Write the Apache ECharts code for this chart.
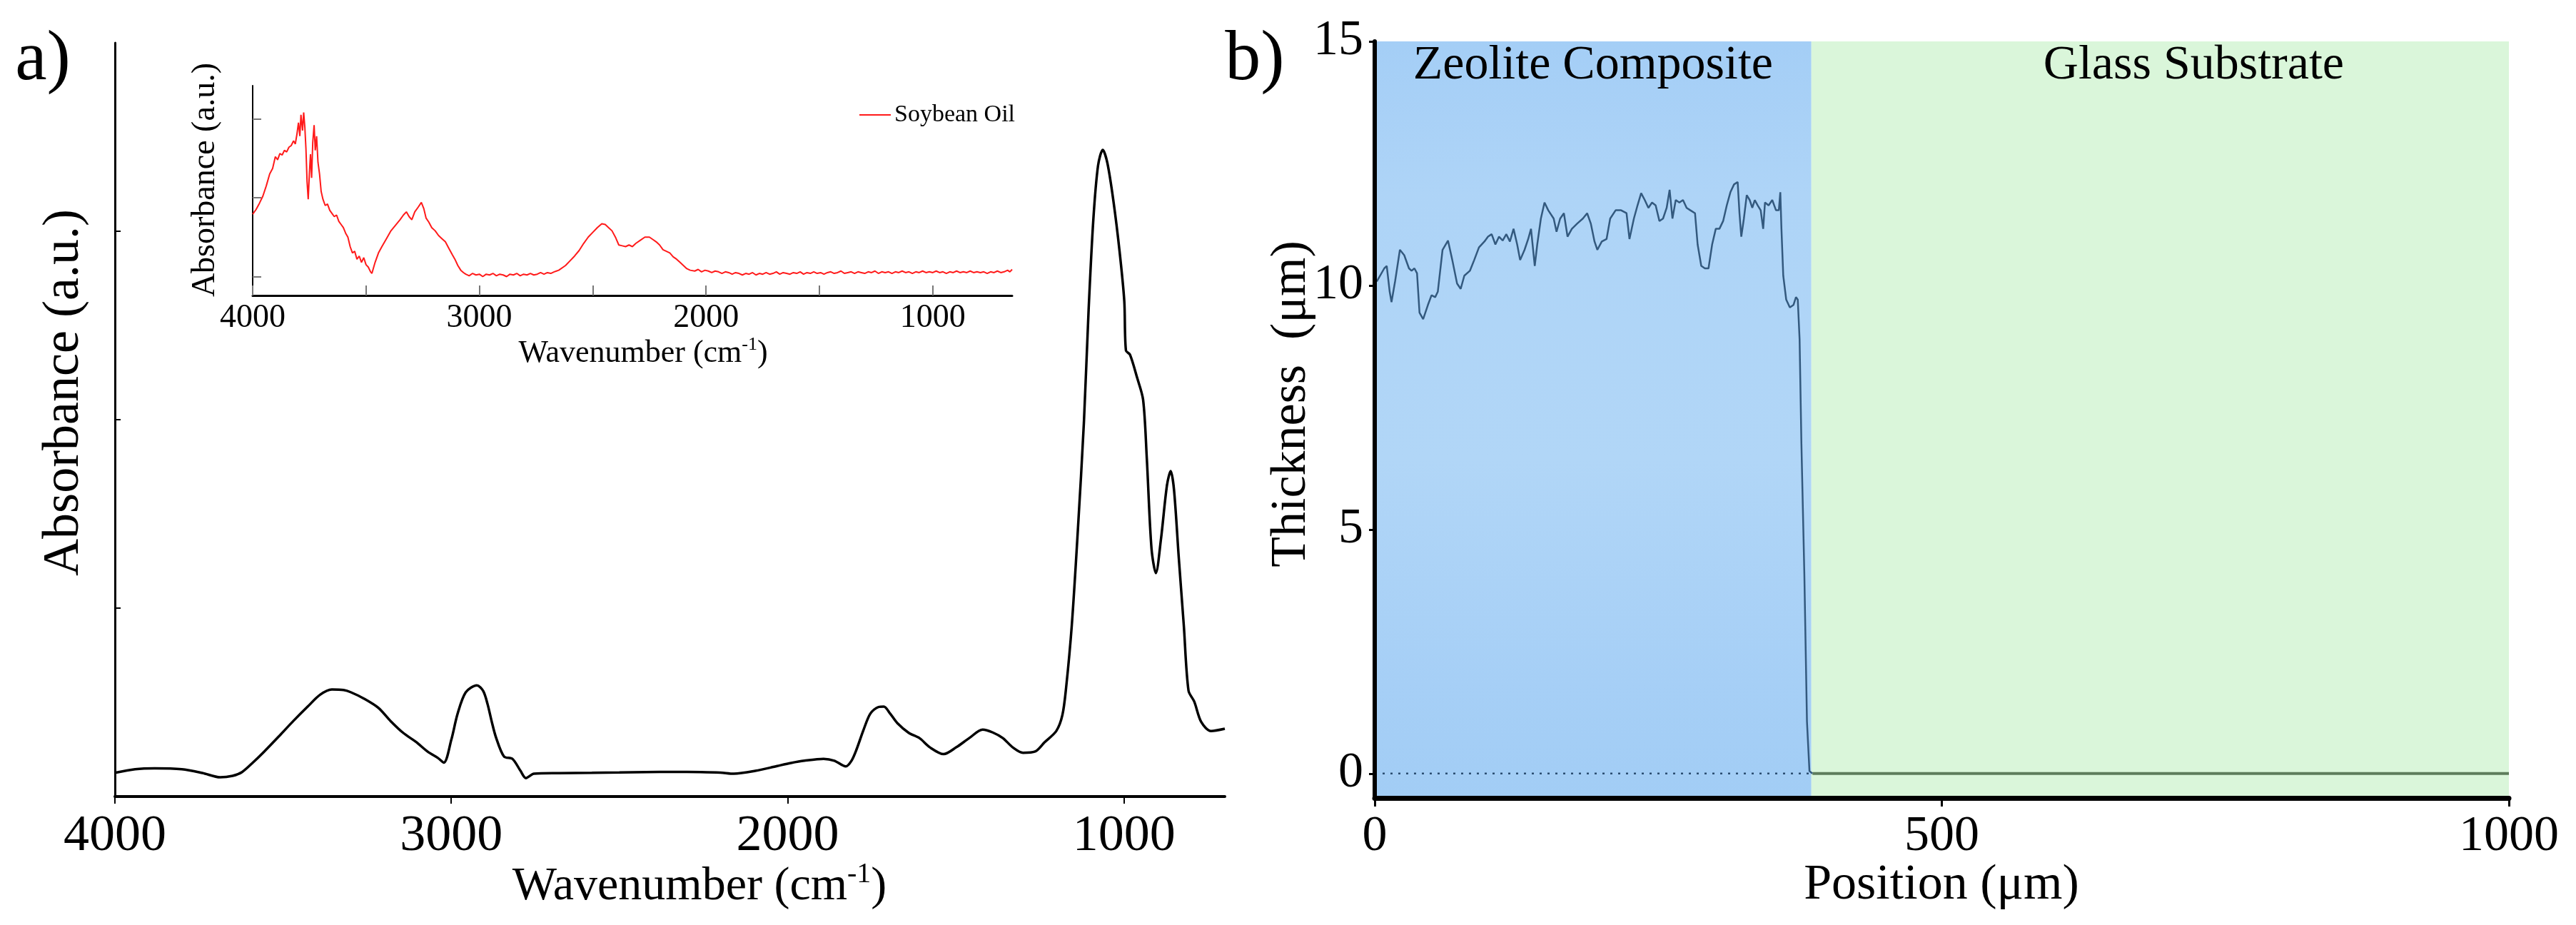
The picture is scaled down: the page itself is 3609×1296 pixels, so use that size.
<!DOCTYPE html>
<html>
<head>
<meta charset="utf-8">
<script src="https://cdn.jsdelivr.net/npm/echarts@6/dist/echarts.min.js"></script>
<style>
html, body { margin: 0; padding: 0; background: #fff; }
#chart { width: 3609px; height: 1296px; }
</style>
</head>
<body>
<div id="chart"></div>
<script>
// a) FTIR spectrum (wavenumber cm-1, absorbance a.u.)
var ftirWavenumber = [4000, 3940, 3882, 3801, 3740, 3687, 3650, 3622, 3590, 3557, 3509, 3470, 3427, 3390, 3355, 3320, 3298, 3260, 3217, 3180, 3143, 3105, 3070, 3040, 3022, 3000, 2981, 2957, 2924, 2905, 2892, 2880, 2867, 2843, 2818, 2794, 2778, 2754, 2680, 2582, 2500, 2421, 2340, 2258, 2200, 2160, 2096, 2031, 1990, 1950, 1893, 1861, 1827, 1810, 1795, 1775, 1754, 1730, 1714, 1695, 1674, 1640, 1608, 1576, 1536, 1498, 1460, 1420, 1390, 1360, 1330, 1300, 1264, 1236, 1201, 1183, 1172, 1155, 1137, 1119, 1105, 1091, 1077, 1063, 1049, 1031, 1013, 999, 994, 982, 961, 943, 932, 918, 905, 890, 872, 861, 851, 837, 822, 808, 791, 770, 741, 700];
var ftirAbsorbance = [0.126, 0.145, 0.15, 0.145, 0.125, 0.102, 0.11, 0.13, 0.18, 0.237, 0.326, 0.40, 0.477, 0.54, 0.568, 0.565, 0.553, 0.52, 0.471, 0.40, 0.338, 0.29, 0.238, 0.205, 0.18, 0.30, 0.44, 0.553, 0.59, 0.56, 0.49, 0.40, 0.314, 0.212, 0.2, 0.136, 0.098, 0.121, 0.124, 0.126, 0.128, 0.13, 0.131, 0.13, 0.127, 0.121, 0.136, 0.162, 0.178, 0.19, 0.2, 0.19, 0.16, 0.19, 0.25, 0.35, 0.44, 0.475, 0.477, 0.44, 0.39, 0.338, 0.31, 0.26, 0.225, 0.262, 0.31, 0.355, 0.34, 0.31, 0.26, 0.232, 0.239, 0.288, 0.348, 0.432, 0.576, 0.909, 1.413, 1.985, 2.583, 3.061, 3.348, 3.432, 3.36, 3.157, 2.894, 2.631, 2.367, 2.345, 2.224, 2.106, 1.795, 1.316, 1.186, 1.364, 1.652, 1.727, 1.626, 1.269, 0.909, 0.562, 0.504, 0.395, 0.348, 0.36];

// inset: soybean oil spectrum
var oilWavenumber = [4000, 3985, 3970, 3955, 3940, 3925, 3912, 3900, 3890, 3880, 3870, 3860, 3850, 3840, 3830, 3820, 3812, 3805, 3798, 3792, 3787, 3780, 3775, 3770, 3765, 3760, 3755, 3750, 3745, 3740, 3735, 3729, 3724, 3718, 3712, 3705, 3698, 3690, 3680, 3670, 3660, 3650, 3640, 3630, 3620, 3610, 3600, 3590, 3580, 3570, 3560, 3550, 3540, 3530, 3520, 3510, 3500, 3490, 3480, 3474, 3460, 3445, 3430, 3410, 3390, 3370, 3350, 3335, 3322, 3310, 3298, 3285, 3270, 3256, 3245, 3235, 3223, 3210, 3195, 3180, 3165, 3150, 3135, 3120, 3108, 3095, 3082, 3070, 3060, 3045, 3030, 3015, 3000, 2985, 2970, 2955, 2940, 2925, 2910, 2895, 2880, 2865, 2850, 2835, 2820, 2805, 2790, 2775, 2760, 2745, 2730, 2715, 2700, 2685, 2670, 2660, 2650, 2620, 2600, 2580, 2560, 2540, 2520, 2500, 2480, 2460, 2445, 2430, 2415, 2400, 2385, 2370, 2355, 2340, 2325, 2310, 2290, 2270, 2250, 2235, 2220, 2205, 2190, 2175, 2160, 2145, 2130, 2115, 2100, 2085, 2070, 2050, 2035, 2020, 2005, 1990, 1975, 1960, 1945, 1930, 1915, 1900, 1885, 1870, 1855, 1840, 1825, 1810, 1795, 1780, 1765, 1750, 1735, 1720, 1705, 1690, 1675, 1660, 1645, 1630, 1615, 1600, 1585, 1570, 1555, 1540, 1525, 1510, 1495, 1480, 1465, 1450, 1435, 1420, 1405, 1390, 1375, 1360, 1345, 1330, 1315, 1300, 1285, 1270, 1255, 1240, 1225, 1210, 1195, 1180, 1165, 1150, 1135, 1120, 1105, 1090, 1075, 1060, 1045, 1030, 1015, 1000, 985, 970, 955, 940, 925, 910, 895, 880, 865, 850, 835, 820, 805, 790, 775, 760, 745, 730, 715, 700, 685, 670, 660, 650];
var oilAbsorbance = [0.79, 0.85, 0.93, 1.02, 1.15, 1.30, 1.37, 1.52, 1.48, 1.56, 1.54, 1.60, 1.58, 1.64, 1.66, 1.72, 1.68, 1.80, 1.95, 1.78, 2.05, 1.85, 2.08, 1.90, 1.62, 1.20, 0.98, 1.30, 1.55, 1.25, 1.70, 1.92, 1.60, 1.78, 1.45, 1.30, 1.08, 0.98, 0.90, 0.92, 0.84, 0.80, 0.76, 0.78, 0.70, 0.66, 0.62, 0.55, 0.50, 0.38, 0.30, 0.32, 0.22, 0.26, 0.18, 0.24, 0.15, 0.12, 0.06, 0.04, 0.18, 0.30, 0.38, 0.48, 0.58, 0.65, 0.72, 0.78, 0.82, 0.76, 0.72, 0.82, 0.88, 0.94, 0.86, 0.74, 0.69, 0.62, 0.58, 0.52, 0.48, 0.44, 0.36, 0.28, 0.22, 0.14, 0.08, 0.05, 0.03, 0.01, 0.04, 0.02, 0.03, 0.00, 0.03, 0.02, 0.04, 0.01, 0.03, 0.02, 0.00, 0.03, 0.02, 0.04, 0.01, 0.03, 0.02, 0.04, 0.02, 0.03, 0.05, 0.03, 0.05, 0.04, 0.06, 0.07, 0.08, 0.14, 0.20, 0.26, 0.33, 0.42, 0.50, 0.56, 0.62, 0.67, 0.66, 0.62, 0.58, 0.50, 0.40, 0.39, 0.38, 0.40, 0.38, 0.42, 0.46, 0.50, 0.50, 0.47, 0.44, 0.40, 0.34, 0.32, 0.30, 0.25, 0.22, 0.18, 0.14, 0.10, 0.08, 0.07, 0.09, 0.06, 0.08, 0.07, 0.05, 0.07, 0.06, 0.04, 0.06, 0.05, 0.03, 0.05, 0.04, 0.02, 0.04, 0.03, 0.05, 0.02, 0.04, 0.03, 0.05, 0.03, 0.04, 0.06, 0.03, 0.05, 0.04, 0.03, 0.05, 0.04, 0.06, 0.03, 0.05, 0.04, 0.06, 0.04, 0.05, 0.03, 0.05, 0.06, 0.04, 0.05, 0.07, 0.04, 0.05, 0.06, 0.04, 0.06, 0.05, 0.04, 0.06, 0.05, 0.07, 0.04, 0.06, 0.05, 0.06, 0.04, 0.06, 0.05, 0.07, 0.05, 0.06, 0.04, 0.06, 0.05, 0.07, 0.05, 0.06, 0.05, 0.07, 0.05, 0.06, 0.04, 0.06, 0.05, 0.07, 0.05, 0.06, 0.05, 0.07, 0.05, 0.06, 0.05, 0.06, 0.04, 0.06, 0.05, 0.07, 0.05, 0.06, 0.08, 0.06, 0.09];

// b) thickness profile (position um, thickness um)
var profilePosition = [0, 2, 8.4, 10.6, 13.2, 14.8, 18.0, 22.2, 26.0, 30.2, 32.5, 35.0, 37.3, 39.5, 42.7, 46.9, 50.1, 53.3, 55.6, 59.8, 64.6, 68.4, 72.6, 75.8, 79.0, 83.9, 87.7, 91.9, 96.7, 99.9, 103.1, 106.4, 109.6, 112.8, 116.0, 119.2, 122.4, 125.6, 128.2, 132.1, 135.3, 137.8, 141.1, 143.3, 146.5, 149.7, 153.0, 157.8, 160.3, 163.5, 166.8, 170.0, 173.8, 178.6, 183.5, 187.3, 190.5, 193.8, 196.3, 200.2, 204.4, 207.6, 212.4, 217.2, 222.0, 224.6, 228.5, 231.7, 234.9, 238.1, 241.3, 244.5, 247.7, 251.0, 254.2, 257.4, 260.0, 262.5, 265.4, 268.6, 271.8, 275.0, 278.3, 282.4, 284.7, 287.9, 291.1, 294.3, 297.5, 300.7, 303.9, 307.2, 310.4, 313.6, 316.8, 320.0, 321.6, 323.2, 325.5, 328.0, 330.6, 332.9, 335.1, 337.7, 340.3, 342.5, 344.1, 347.3, 350.5, 353.8, 356.3, 357.6, 358.6, 360.2, 362.8, 366.0, 369.2, 371.4, 373.0, 374.6, 376.2, 378.8, 381.1, 383.3, 385.9];
var profileThickness = [10.1, 10.09, 10.35, 10.4, 9.87, 9.66, 10.09, 10.73, 10.62, 10.35, 10.3, 10.35, 10.25, 9.44, 9.31, 9.6, 9.8, 9.76, 9.87, 10.73, 10.92, 10.52, 10.04, 9.93, 10.2, 10.3, 10.52, 10.78, 10.9, 11.0, 11.05, 10.84, 11.0, 10.92, 11.05, 10.9, 11.16, 10.84, 10.52, 10.73, 10.95, 11.16, 10.4, 10.84, 11.37, 11.7, 11.54, 11.37, 11.1, 11.37, 11.48, 11.0, 11.16, 11.27, 11.37, 11.48, 11.27, 10.9, 10.73, 10.9, 10.95, 11.37, 11.54, 11.54, 11.48, 10.95, 11.37, 11.64, 11.89, 11.75, 11.59, 11.7, 11.64, 11.32, 11.37, 11.59, 11.96, 11.37, 11.75, 11.7, 11.75, 11.59, 11.54, 11.48, 10.84, 10.4, 10.35, 10.35, 10.84, 11.16, 11.16, 11.32, 11.64, 11.91, 12.07, 12.12, 11.48, 11.0, 11.37, 11.85, 11.75, 11.59, 11.75, 11.64, 11.54, 11.16, 11.7, 11.64, 11.75, 11.54, 11.54, 11.91, 11.16, 10.2, 9.71, 9.55, 9.6, 9.76, 9.71, 8.9, 6.76, 4.08, 1.07, 0.05, 0.0];
var substratePosition = [386, 1000];
var substrateThickness = [0, 0];
var zeroLinePosition = [0, 385];
var zeroLineThickness = [0, 0];

var zoneNames = ['Zeolite Composite', 'Glass Substrate'];
var zoneStart = [0, 385];
var zoneEnd = [385, 1000];

var mainTicks = [1000, 2000, 3000, 4000];
var insetTicks = [1000, 1500, 2000, 2500, 3000, 3500, 4000];
var thicknessTicks = [0, 5, 10, 15];
var positionTicks = [0, 500, 1000];

function zip(xs, ys) {
    return xs.map(function (x, i) { return [x, ys[i]]; });
}
function plain(v) { return String(v); }

var serif = 'Liberation Serif';
var chart = echarts.init(document.getElementById('chart'));

var blueFill = new echarts.graphic.LinearGradient(0, 0, 0, 1, [
    {offset: 0, color: '#a4cef6'},
    {offset: 0.2, color: '#aed4f7'},
    {offset: 0.55, color: '#b1d6f7'},
    {offset: 0.85, color: '#a6cff6'},
    {offset: 1, color: '#a2cdf5'}
]);

function title(x, y, text, size, rot) {
    return {
        type: 'text', x: x, y: y, rotation: rot || 0, z: 20,
        style: {
            text: text, fill: '#000', align: 'center', verticalAlign: 'middle',
            fontFamily: serif, fontSize: size,
            rich: {
                a: {fontFamily: serif, fontSize: size, lineHeight: size * 1.15},
                s: {fontFamily: serif, fontSize: Math.round(size * 0.6), lineHeight: Math.round(size * 0.6), verticalAlign: 'top'}
            }
        }
    };
}

chart.setOption({
    animation: false,
    backgroundColor: '#fff',
    legend: {
        data: ['Soybean Oil'],
        left: 1199, top: 139,
        icon: 'rect', itemWidth: 44, itemHeight: 2,
        textStyle: {fontFamily: serif, fontSize: 34, color: '#000'}
    },
    grid: [
        {left: 161, top: 60, width: 1555, height: 1056},
        {left: 354, top: 120, width: 1064, height: 294},
        {left: 1926, top: 58, width: 1589, height: 1060}
    ],
    xAxis: [
        {
            gridIndex: 0, type: 'value', inverse: true, min: 700, max: 4000,
            splitLine: {show: false},
            axisLine: {onZero: false, lineStyle: {color: '#000', width: 4}},
            axisTick: {customValues: mainTicks, length: 10, lineStyle: {color: '#000', width: 2}},
            axisLabel: {customValues: mainTicks, formatter: plain, margin: 20, fontFamily: serif, fontSize: 72, color: '#000'}
        },
        {
            gridIndex: 1, type: 'value', inverse: true, min: 650, max: 4000,
            splitLine: {show: false},
            axisLine: {onZero: false, lineStyle: {color: '#000', width: 3}},
            axisTick: {customValues: insetTicks, inside: true, length: 14, lineStyle: {color: '#777', width: 2}},
            axisLabel: {customValues: mainTicks, formatter: plain, margin: 9, fontFamily: serif, fontSize: 46, color: '#000'}
        },
        {
            gridIndex: 2, type: 'value', min: 0, max: 1000, z: 10,
            splitLine: {show: false},
            axisLine: {onZero: false, lineStyle: {color: '#000', width: 7}},
            axisTick: {customValues: positionTicks, length: 12, lineStyle: {color: '#000', width: 3}},
            axisLabel: {customValues: positionTicks, formatter: plain, margin: 20, fontFamily: serif, fontSize: 70, color: '#000'}
        }
    ],
    yAxis: [
        {
            gridIndex: 0, type: 'value', min: 0, max: 4,
            splitLine: {show: false},
            axisLine: {show: true, onZero: false, lineStyle: {color: '#000', width: 3}},
            axisTick: {show: true, customValues: [1, 2, 3], inside: true, length: 8, lineStyle: {color: '#000', width: 2}},
            axisLabel: {show: false}
        },
        {
            gridIndex: 1, type: 'value', min: -0.24, max: 2.42,
            splitLine: {show: false},
            axisLine: {show: true, onZero: false, lineStyle: {color: '#000', width: 2}},
            axisTick: {show: true, customValues: [0, 1, 2], inside: true, length: 12, lineStyle: {color: '#777', width: 2}},
            axisLabel: {show: false}
        },
        {
            gridIndex: 2, type: 'value', min: -0.5, max: 15, z: 10,
            splitLine: {show: false},
            axisLine: {show: true, onZero: false, lineStyle: {color: '#000', width: 6}},
            axisTick: {show: true, customValues: thicknessTicks, length: 8, lineStyle: {color: '#000', width: 3}},
            axisLabel: {customValues: thicknessTicks, formatter: plain, margin: 16, fontFamily: serif, fontSize: 70, color: '#000'}
        }
    ],
    graphic: [
        title(60, 85, 'a)', 100),
        title(1758, 85, 'b)', 100),
        title(90, 550, 'Absorbance (a.u.)', 72, Math.PI / 2),
        title(980, 1243, '{a|Wavenumber (cm}{s|-1}{a|)}', 66),
        title(288, 252, 'Absorbance (a.u.)', 46, Math.PI / 2),
        title(901, 495, '{a|Wavenumber (cm}{s|-1}{a|)}', 44),
        title(1810, 566, 'Thickness  (\u03bcm)', 70, Math.PI / 2),
        title(2720, 1241, 'Position (\u03bcm)', 70)
    ],
    series: [
        {
            name: 'zones', type: 'line', xAxisIndex: 2, yAxisIndex: 2,
            data: zip(zeroLinePosition, zeroLineThickness),
            showSymbol: false, z: 3,
            lineStyle: {color: '#2b4d70', width: 2.5, type: [3, 8]},
            markArea: {
                silent: true,
                label: {position: 'insideTop', distance: 0, fontFamily: serif, fontSize: 68, color: '#000'},
                data: [
                    [{name: zoneNames[0], xAxis: zoneStart[0], itemStyle: {color: blueFill}},
                     {xAxis: zoneEnd[0]}],
                    [{name: zoneNames[1], xAxis: zoneStart[1], itemStyle: {color: '#daf6da'}, label: {offset: [47, 0]}},
                     {xAxis: zoneEnd[1]}]
                ]
            }
        },
        {
            name: 'substrate', type: 'line', xAxisIndex: 2, yAxisIndex: 2,
            data: zip(substratePosition, substrateThickness),
            showSymbol: false, z: 4,
            lineStyle: {color: '#5e7d5c', width: 4}
        },
        {
            name: 'thickness', type: 'line', xAxisIndex: 2, yAxisIndex: 2,
            data: zip(profilePosition, profileThickness),
            showSymbol: false, z: 5,
            lineStyle: {color: '#33597e', width: 2.5}
        },
        {
            name: 'FTIR', type: 'line', xAxisIndex: 0, yAxisIndex: 0,
            data: zip(ftirWavenumber, ftirAbsorbance),
            showSymbol: false, smooth: 0.3,
            lineStyle: {color: '#000', width: 3.5}
        },
        {
            name: 'Soybean Oil', type: 'line', xAxisIndex: 1, yAxisIndex: 1,
            data: zip(oilWavenumber, oilAbsorbance),
            showSymbol: false, color: '#ff1a1a',
            lineStyle: {color: '#ff1a1a', width: 2}
        }
    ]
});
</script>
</body>
</html>
